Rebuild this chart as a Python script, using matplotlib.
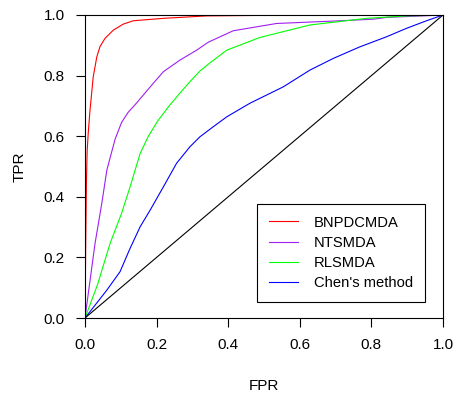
import matplotlib.pyplot as plt

plt.rcParams['font.family'] = ['Liberation Sans', 'DejaVu Sans']

# ROC curves
bnp_fpr = [0.0, 0.002, 0.004, 0.006, 0.009, 0.014, 0.023, 0.033, 0.042, 0.056, 0.079, 0.107,
           0.135, 0.219, 0.340, 0.60, 1.0]
bnp_tpr = [0.0, 0.25, 0.45, 0.55, 0.61, 0.686, 0.796, 0.862, 0.896, 0.923, 0.950, 0.970,
           0.981, 0.989, 0.997, 1.0, 1.0]

nts_fpr = [0.0, 0.028, 0.047, 0.061, 0.084, 0.102, 0.120, 0.140, 0.163, 0.191, 0.219, 0.265,
           0.312, 0.344, 0.414, 0.535, 0.694, 0.805, 0.842, 1.0]
nts_tpr = [0.0, 0.246, 0.379, 0.488, 0.590, 0.645, 0.678, 0.704, 0.736, 0.775, 0.813, 0.851,
           0.884, 0.910, 0.948, 0.972, 0.980, 0.986, 0.992, 1.0]

rls_fpr = [0.0, 0.035, 0.070, 0.102, 0.126, 0.154, 0.177, 0.203, 0.233, 0.265, 0.293,
           0.321, 0.349, 0.396, 0.489, 0.628, 0.787, 0.898, 1.0]
rls_tpr = [0.0, 0.110, 0.246, 0.345, 0.433, 0.543, 0.600, 0.650, 0.697, 0.742, 0.780,
           0.815, 0.842, 0.884, 0.926, 0.967, 0.989, 0.997, 1.0]

chen_fpr = [0.0, 0.061, 0.098, 0.115, 0.126, 0.154, 0.182, 0.219, 0.256, 0.293, 0.321, 0.358,
            0.396, 0.461, 0.554, 0.628, 0.694, 0.768, 0.842, 0.898, 0.954, 1.0]
chen_tpr = [0.0, 0.092, 0.153, 0.200, 0.230, 0.301, 0.356, 0.433, 0.511, 0.565, 0.598, 0.631,
            0.664, 0.709, 0.763, 0.818, 0.857, 0.895, 0.928, 0.956, 0.981, 1.0]

names = ['BNPDCMDA', 'NTSMDA', 'RLSMDA', "Chen's method"]
colors = ['#FF0000', '#A020F0', '#00FF00', '#0000FF']
ticks = [0.0, 0.2, 0.4, 0.6, 0.8, 1.0]

fig = plt.figure(figsize=(4.53, 3.94), dpi=100)
ax = fig.add_axes([85 / 453, 76 / 394, 358 / 453, 303 / 394])

curves = [(bnp_fpr, bnp_tpr), (nts_fpr, nts_tpr), (rls_fpr, rls_tpr), (chen_fpr, chen_tpr)]
for (fx, ty), name, c in zip(curves, names, colors):
    ax.plot(fx, ty, color=c, lw=0.8, label=name)
ax.plot([0, 1], [0, 1], color='black', lw=0.8)

ax.set_xlim(0, 1)
ax.set_ylim(0, 1)
ax.set_xticks(ticks)
ax.set_yticks(ticks)
ax.set_xticklabels([f'{t:.1f}' for t in ticks])
ax.set_yticklabels([f'{t:.1f}' for t in ticks])
ax.tick_params(direction='out', length=6.5, width=0.8, labelsize=11, pad=8)
for s in ax.spines.values():
    s.set_linewidth(0.8)

ax.set_xlabel('FPR', fontsize=11, labelpad=19)
ax.set_ylabel('TPR', fontsize=11, labelpad=12)

leg = ax.legend(loc='lower right', bbox_to_anchor=(0.950, 0.053), fontsize=10.6,
                frameon=True, fancybox=False, edgecolor='black', framealpha=1,
                handlelength=2.0, handletextpad=1.1, labelspacing=0.42,
                borderpad=0.8, borderaxespad=0)
leg.get_frame().set_linewidth(0.8)

fig.savefig('out.png', dpi=100)
